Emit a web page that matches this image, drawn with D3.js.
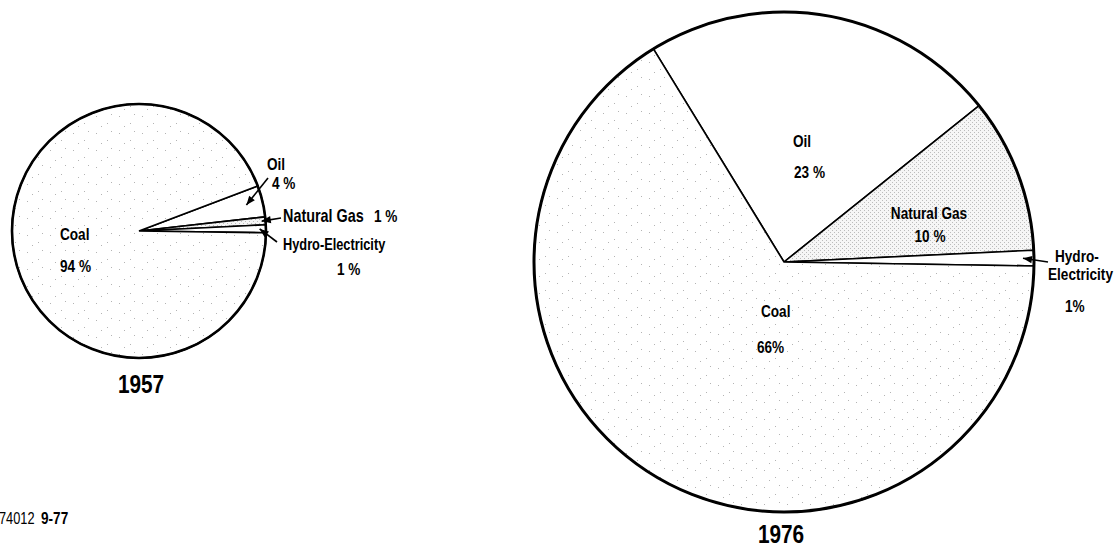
<!DOCTYPE html>
<html>
<head>
<meta charset="utf-8">
<script src="https://cdnjs.cloudflare.com/ajax/libs/d3/7.8.5/d3.min.js"></script>
<style>
body { margin: 0; background: #fff; }
svg text { font-family: "Liberation Sans", Arial, sans-serif; font-weight: bold; fill: #000; }
</style>
</head>
<body>
<svg id="chart" width="1114" height="548"></svg>
<script>
// data, clockwise from the oil slice
var categories = ["Oil", "Natural Gas", "Hydro-Electricity", "Coal"];
var values1957 = [4, 1, 1, 94];
var values1976 = [23, 10, 1, 66];
var years = ["1957", "1976"];
var pctText1957 = ["4 %", "1 %", "1 %", "94 %"];
var pctText1976 = ["23 %", "10 %", "1%", "66%"];
var fills = ["#fff", "url(#gasDots)", "#fff", "url(#coalDots)"];

var svg = d3.select("#chart");
var defs = svg.append("defs");

var coal = defs.append("pattern").attr("id", "coalDots")
	.attr("patternUnits", "userSpaceOnUse").attr("width", 23).attr("height", 17);
coal.append("rect").attr("width", 23).attr("height", 17).attr("fill", "#fff");
[[3, 4], [14, 11], [18, 2], [8, 14]].forEach(function(p) {
	coal.append("rect").attr("x", p[0]).attr("y", p[1]).attr("width", 1).attr("height", 1).attr("fill", "#b4b4b4");
});

var gas = defs.append("pattern").attr("id", "gasDots")
	.attr("patternUnits", "userSpaceOnUse").attr("width", 4).attr("height", 4);
gas.append("rect").attr("width", 4).attr("height", 4).attr("fill", "#f6f6f6");
[[0, 0], [2, 2]].forEach(function(p) {
	gas.append("rect").attr("x", p[0]).attr("y", p[1]).attr("width", 1).attr("height", 1).attr("fill", "#bcbcbc");
});

defs.append("marker").attr("id", "head")
	.attr("markerUnits", "userSpaceOnUse")
	.attr("viewBox", "0 -5 10 10")
	.attr("refX", 10).attr("refY", 0)
	.attr("markerWidth", 11).attr("markerHeight", 9)
	.attr("orient", "auto")
	.append("path").attr("d", "M0,-4L10,0L0,4Z").attr("fill", "#000");

// narrow bold type, like the condensed face of the original
function label(x, y, txt, size, anchor) {
	return svg.append("text")
		.attr("transform", "translate(" + x + "," + y + ") scale(0.8,1)")
		.attr("text-anchor", anchor || "start")
		.style("font-size", size + "px")
		.text(txt);
}

// layout of each pie and where its labels sit: [text, x, y, anchor, size]
var pies = [
	{year: years[0], values: values1957, pct: pctText1957, cx: 139, cy: 231, r: 127, start: 69.2, rim: 2.6, font: 16, yearX: 141, yearY: 393,
	 labels: [
		{lines: [["Oil", 267, 170, null, 17], ["pct", 272, 189, null, 17]], arrow: [268, 178], tip: 0.87},
		{lines: [["Natural Gas", 283, 222, null, 18], ["pct", 374, 222, null, 17]], arrow: [281, 218], tip: 0.97},
		{lines: [["Hydro-Electricity", 283, 250], ["pct", 337, 275, null, 17]], arrow: [277, 242], tip: 0.95},
		{lines: [["Coal", 60, 240, null, 17], ["pct", 60, 272, null, 17]]}
	 ]},
	{year: years[1], values: values1976, pct: pctText1976, cx: 784, cy: 262, r: 250, start: -31.5, rim: 3, font: 17, yearX: 781, yearY: 543,
	 labels: [
		{lines: [["Oil", 793, 147], ["pct", 794, 178]]},
		{lines: [["Natural Gas", 929, 219, "middle"], ["pct", 930, 242, "middle"]]},
		{lines: [["Hydro-", 1055, 262], ["Electricity", 1048, 280], ["pct", 1065, 312]], arrow: [1048, 262], tip: 0.956},
		{lines: [["Coal", 761, 317], ["pct", 757, 353]]}
	 ]}
];

pies.forEach(function(p) {
	var a0 = p.start * Math.PI / 180;
	var pie = d3.pie().sort(null).startAngle(a0).endAngle(a0 + 2 * Math.PI);
	var arcs = pie(p.values);
	var arc = d3.arc().innerRadius(0).outerRadius(p.r);
	var g = svg.append("g").attr("transform", "translate(" + p.cx + "," + p.cy + ")");

	g.selectAll("path.slice")
		.data(arcs)
	.enter().append("path")
		.attr("class", "slice")
		.attr("d", arc)
		.attr("fill", function(d, i) { return fills[i]; })
		.attr("stroke", "#000")
		.attr("stroke-width", 1.6);

	g.append("circle").attr("r", p.r)
		.attr("fill", "none").attr("stroke", "#000").attr("stroke-width", p.rim);

	p.labels.forEach(function(l, i) {
		l.lines.forEach(function(ln) {
			label(ln[1], ln[2], ln[0] === "pct" ? p.pct[i] : ln[0], ln[4] || p.font, ln[3]);
		});
		if (l.arrow) {
			var mid = (arcs[i].startAngle + arcs[i].endAngle) / 2;
			var tip = d3.arc().innerRadius(p.r * l.tip).outerRadius(p.r * l.tip)
				.centroid({startAngle: mid, endAngle: mid});
			svg.append("line")
				.attr("x1", l.arrow[0]).attr("y1", l.arrow[1])
				.attr("x2", p.cx + tip[0]).attr("y2", p.cy + tip[1])
				.attr("stroke", "#000").attr("stroke-width", 1.6)
				.attr("marker-end", "url(#head)");
		}
	});

	label(p.yearX, p.yearY, p.year, 26, "middle");
});

label(-1, 524, "74012", 16).style("font-weight", "normal");
label(41, 524, "9-77", 17);
</script>
</body>
</html>
